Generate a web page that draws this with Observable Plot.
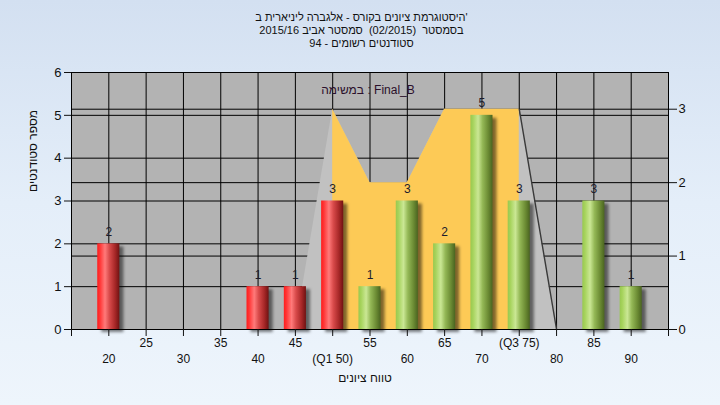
<!DOCTYPE html>
<html>
<head>
<meta charset="utf-8">
<script src="https://cdn.jsdelivr.net/npm/d3@7"></script>
<script src="https://cdn.jsdelivr.net/npm/@observablehq/plot@0.6"></script>
<style>
html, body { margin: 0; padding: 0; }
body { width: 720px; height: 405px; overflow: hidden;
  background: linear-gradient(to bottom, #d3e0f1 0%, #e4eef9 50%, #eef5fc 100%);
  font-family: "Liberation Sans", Arial, sans-serif; }
#wrap { position: relative; width: 720px; height: 405px; }
#chart { position: absolute; left: 0; top: 0; }
#title { position: absolute; top: 11px; left: 0; width: 723px; text-align: center;
  font-size: 11px; line-height: 13px; color: #111; white-space: pre; }
</style>
</head>
<body>
<div id="wrap">
  <div id="chart"></div>
  <div id="title"></div>
</div>
<script>
// ---------- data ----------
const titleLines = [
  "היסטוגרמת ציונים בקורס - אלגברה ליניארית ב'",
  "בסמסטר  (02/2015)  סמסטר אביב 2015/16",
  "סטודנטים רשומים - 94"
];
const taskLabel = "במשימה : Final_B";
const yTitle = "מספר סטודנטים";
const xTitle = "טווח ציונים";

const grades = [20, 40, 45, 50, 55, 60, 65, 70, 75, 85, 90];
const counts = [2, 1, 1, 3, 1, 3, 2, 5, 3, 3, 1];
const passMark = 55;

const curveGrades = [45, 50, 55, 60, 65, 70, 75, 80];
const curveValues = [0, 3, 2, 2, 3, 3, 3, 0];
const q1 = 50, q3 = 75;

const leftTicks = [0, 1, 2, 3, 4, 5, 6];
const rightTicks = [0, 1, 2, 3];
const rightMax = 3.5;
const xTicks = [15, 20, 25, 30, 35, 40, 45, 50, 55, 60, 65, 70, 75, 80, 85, 90, 95];
const xGrid = [20, 25, 30, 35, 40, 45, 50, 55, 60, 65, 70, 75, 80, 85, 90];
const xLabelsUpper = [25, 35, 45, 55, 65, 75, 85];
const xLabelsLower = [20, 30, 40, 50, 60, 70, 80, 90];
const quartileNames = {50: "(Q1 50)", 75: "(Q3 75)"};

// ---------- build ----------
document.getElementById("title").innerHTML =
  titleLines.map(t => `<div>${t}</div>`).join("");

const k = 6 / rightMax; // right axis -> left axis units
const bars = grades.map((g, i) => ({grade: g, count: counts[i]}));
const failBars = bars.filter(d => d.grade < passMark);
const passBars = bars.filter(d => d.grade >= passMark);
const curve = curveGrades.map((g, i) => ({grade: g, v: curveValues[i]}));
const iqr = curve.filter(d => d.grade >= q1 && d.grade <= q3);
const tail = curve.filter(d => d.grade >= q3);
const fmtX = d => quartileNames[d] ?? String(d);

const barOpts = {x1: d => d.grade - 2.5, x2: d => d.grade + 2.5, y: "count", insetLeft: 7.6, insetRight: 7.6};

const plot = Plot.plot({
  width: 720,
  height: 405,
  marginLeft: 71,
  marginRight: 52,
  marginTop: 72,
  marginBottom: 76,
  style: {background: "transparent", fontFamily: "Liberation Sans, Arial, sans-serif", fontSize: "12px", color: "#111"},
  x: {domain: [15, 95], label: null},
  y: {domain: [0, 6], label: null},
  marks: [
    Plot.frame({fill: "#b3b3b3"}),
    Plot.ruleY(leftTicks.slice(1), {stroke: "#000"}),
    Plot.ruleY(rightTicks.slice(1), {y: d => d * k, stroke: "#000"}),
    Plot.ruleX(xGrid, {stroke: "#000"}),
    Plot.areaY(curve, {x: "grade", y: d => d.v * k, fill: "#c1c1c1"}),
    Plot.areaY(iqr, {x: "grade", y: d => d.v * k, fill: "#fdca56"}),
    Plot.line(tail, {x: "grade", y: d => d.v * k, stroke: "#3a3a3a", strokeWidth: 1.4}),
    Plot.rectY(bars, {...barOpts, dx: 4, dy: 3, fill: "#000", fillOpacity: 0.5, ariaDescription: "shadow"}),
    Plot.rectY(failBars, {...barOpts, fill: "url(#redGrad)"}),
    Plot.rectY(passBars, {...barOpts, fill: "url(#greenGrad)"}),
    Plot.text(bars, {x: "grade", y: "count", text: d => String(d.count), dy: -12, fontSize: 12, fill: "#1c1c2c"}),
    Plot.frame({stroke: "#000"}),
    Plot.axisY({ticks: leftTicks, anchor: "left", label: null, tickSize: 7, tickPadding: 3, fontSize: 13, tickFormat: d => String(d)}),
    Plot.axisY({ticks: rightTicks.map(r => r * k), anchor: "right", label: null, tickSize: 8, tickPadding: 2, fontSize: 13, tickFormat: v => String(Math.round(v / k))}),
    Plot.axisX({ticks: xTicks, anchor: "bottom", label: null, tickSize: 7, tickFormat: () => ""}),
    Plot.text(xLabelsUpper, {x: d => d, text: fmtX, frameAnchor: "bottom", dy: 17, fontSize: 12, fill: "#111"}),
    Plot.text(xLabelsLower, {x: d => d, text: fmtX, frameAnchor: "bottom", dy: 33, fontSize: 12, fill: "#111"}),
    Plot.text([taskLabel], {frameAnchor: "top", dy: 13, dx: -2, fontSize: 12, fill: "#2b102b"}),
    Plot.text([yTitle], {frameAnchor: "left", dx: -38, dy: -9, rotate: -90, fontSize: 12, fill: "#111"}),
    Plot.text([xTitle], {frameAnchor: "bottom", dy: 52, dx: -5, fontSize: 12, fill: "#111"})
  ]
});

// gradients & shadow filter
const svg = d3.select(plot);
const defs = svg.insert("defs", ":first-child");
function grad(id, stops) {
  const g = defs.append("linearGradient").attr("id", id)
    .attr("x1", 0).attr("x2", 1).attr("y1", 0).attr("y2", 0);
  stops.forEach(([o, c]) => g.append("stop").attr("offset", o).attr("stop-color", c));
}
grad("redGrad", [[0, "#ff1c1c"], [0.12, "#ff3535"], [0.35, "#ff7a7a"], [0.55, "#d84a4a"], [0.8, "#a82828"], [1, "#701212"]]);
grad("greenGrad", [[0, "#98c850"], [0.12, "#a6d35c"], [0.35, "#cae794"], [0.55, "#94b856"], [0.8, "#6c8c34"], [1, "#4a6420"]]);
const f = defs.append("filter").attr("id", "blur").attr("x", "-20%").attr("y", "-20%").attr("width", "140%").attr("height", "140%");
f.append("feGaussianBlur").attr("stdDeviation", 1.6);
svg.select('g[aria-description="shadow"]').attr("filter", "url(#blur)");

document.getElementById("chart").appendChild(plot);
</script>
</body>
</html>
